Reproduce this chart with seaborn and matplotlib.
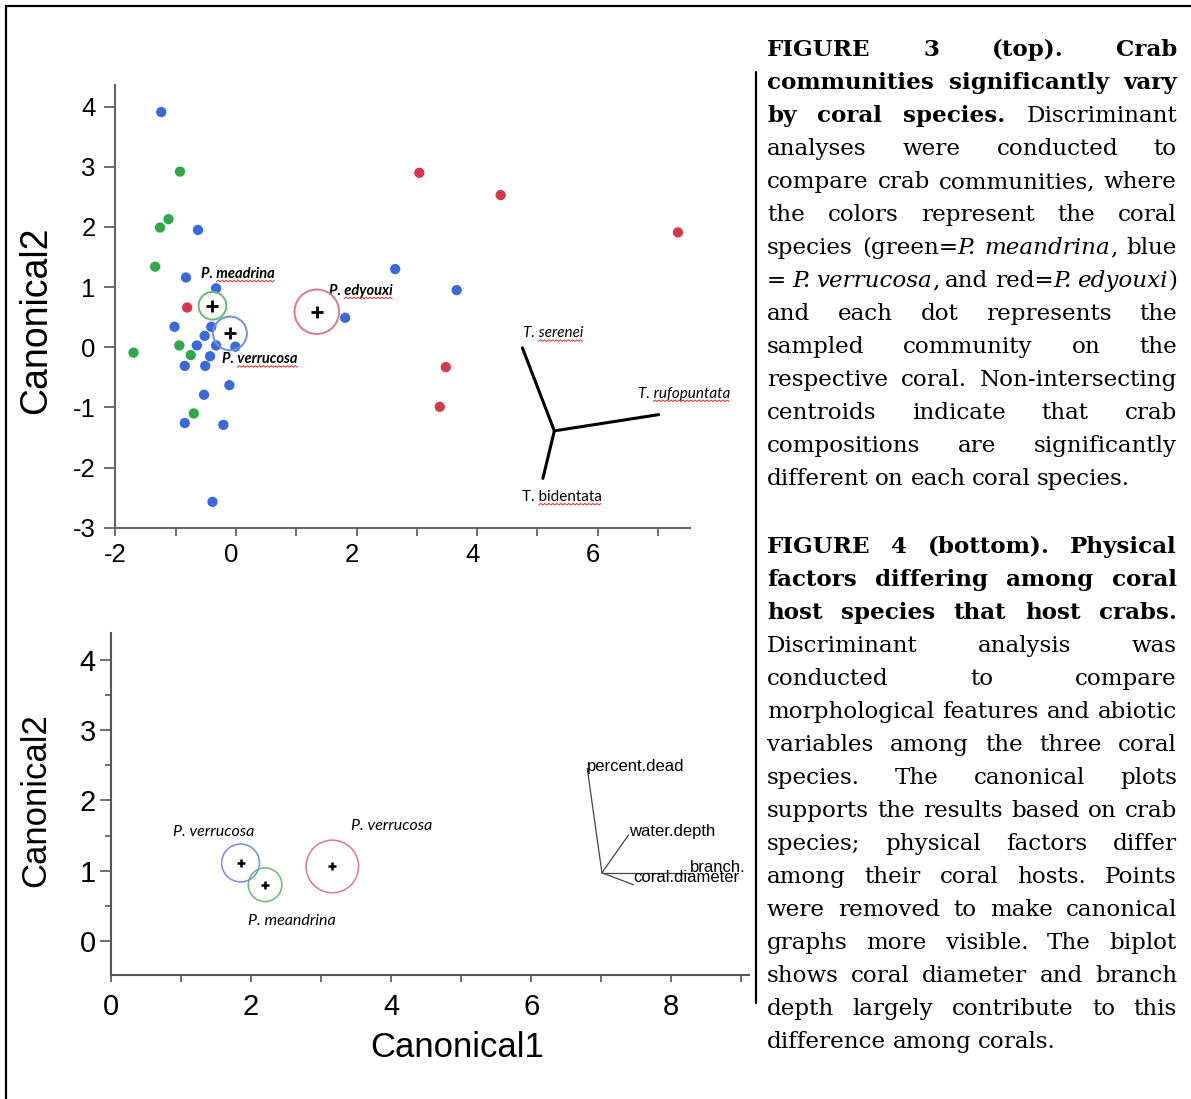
import matplotlib
matplotlib.use("Agg")
import matplotlib.pyplot as plt
from matplotlib.patches import Circle
from matplotlib.lines import Line2D
from matplotlib.ticker import MultipleLocator
from matplotlib.transforms import ScaledTranslation
import numpy as np
import pandas as pd
import seaborn as sns

# ---- Figure 3 (top): crab communities, canonical scores ----
green_x = [-0.93, -1.12, -1.26, -1.34, -0.94, -1.70, -0.75, -0.70]
green_y = [2.92, 2.13, 1.99, 1.34, 0.03, -0.09, -0.13, -1.10]
blue_x = [-1.24, -0.63, -0.83, -0.33, -1.02, -0.41, -0.52, -0.65, -0.33, -0.01, -0.43,
          -0.85, -0.51, -0.11, -0.53, -0.85, -0.21, -0.39, 2.64, 1.81, 3.66]
blue_y = [3.91, 1.95, 1.16, 0.98, 0.34, 0.34, 0.19, 0.03, 0.03, 0.01, -0.15,
          -0.31, -0.31, -0.63, -0.79, -1.26, -1.29, -2.57, 1.30, 0.49, 0.95]
red_x = [3.04, 4.39, 7.33, 3.48, 3.38, -0.81]
red_y = [2.90, 2.53, 1.91, -0.33, -0.99, 0.66]

coral_species = ["P. meandrina", "P. verrucosa", "P. edyouxi"]
crab_cent_x = [-0.39, -0.10, 1.34]
crab_cent_y = [0.69, 0.23, 0.59]
crab_cent_r = [0.23, 0.28, 0.37]
crab_cent_labels = ["P. meadrina", "P. verrucosa", "P. edyouxi"]
crab_label_x = [-0.58, -0.23, 1.54]
crab_label_y = [1.22, -0.20, 0.94]

crab_names = ["T. serenei", "T. rufopuntata", "T. bidentata"]
crab_origin = (5.28, -1.39)
crab_vec_x = [4.75, 7.01, 5.09]
crab_vec_y = [-0.01, -1.12, -2.18]
crab_name_x = [4.76, 6.66, 4.75]
crab_name_y = [0.23, -0.77, -2.49]

# ---- Figure 4 (bottom): physical factors ----
phys_cent_x = [2.20, 1.85, 3.16]
phys_cent_y = [0.80, 1.11, 1.06]
phys_cent_r = [0.24, 0.27, 0.375]
phys_labels = ["P. meandrina", "P. verrucosa", "P. verrucosa"]
phys_label_x = [1.96, 0.88, 3.42]
phys_label_y = [0.29, 1.55, 1.64]

phys_names = ["percent.dead", "water.depth", "branch.", "coral.diameter"]
phys_origin = (7.01, 0.97)
phys_vec_x = [6.80, 7.39, 8.27, 7.46]
phys_vec_y = [2.46, 1.51, 0.97, 0.80]
phys_name_x = [6.80, 7.39, 8.27, 7.46]
phys_name_y = [2.49, 1.56, 1.05, 0.90]

cap3 = [
    "*FIGURE 3 (top). Crab*",
    "*communities significantly vary*",
    "*by coral species.* Discriminant",
    "analyses were conducted to",
    "compare crab communities, where",
    "the colors represent the coral",
    "species (green=_P. meandrina_, blue",
    "= _P. verrucosa_, and red=_P. edyouxi_)",
    "and each dot represents the",
    "sampled community on the",
    "respective coral. Non-intersecting",
    "centroids indicate that crab",
    "compositions are significantly",
    "different on each coral species.",
]
cap4 = [
    "*FIGURE 4 (bottom). Physical*",
    "*factors differing among coral*",
    "*host species that host crabs.*",
    "Discriminant analysis was",
    "conducted to compare",
    "morphological features and abiotic",
    "variables among the three coral",
    "species. The canonical plots",
    "supports the results based on crab",
    "species; physical factors differ",
    "among their coral hosts. Points",
    "were removed to make canonical",
    "graphs more visible. The biplot",
    "shows coral diameter and branch",
    "depth largely contribute to this",
    "difference among corals.",
]

dot_colors = {"P. meandrina": "#2fa948", "P. verrucosa": "#3a69d9", "P. edyouxi": "#d4394b"}
ring_colors = {"P. meandrina": "#62bf6c", "P. verrucosa": "#6d8fe4", "P. edyouxi": "#e07a82"}

sns.set_style("ticks")
plt.rcParams["font.family"] = ["Liberation Sans", "DejaVu Sans"]
plt.rcParams["axes.unicode_minus"] = False
plt.rcParams["text.color"] = "black"
plt.rcParams["axes.labelcolor"] = "black"

small_font = ["Lato", "Open Sans", "DejaVu Sans"]
serif = ["DejaVu Serif", "Liberation Serif"]

W, H = 1191, 1099
fig = plt.figure(figsize=(W / 100, H / 100), dpi=100)
renderer = fig.canvas.get_renderer()
squiggles = []

# ---------- top plot ----------
ax1 = fig.add_axes([115 / W, 1 - 527.7 / H, 575 / W, 442.7 / H])
df = pd.DataFrame({
    "c1": green_x + blue_x + red_x,
    "c2": green_y + blue_y + red_y,
    "coral": ["P. meandrina"] * len(green_x) + ["P. verrucosa"] * len(blue_x)
             + ["P. edyouxi"] * len(red_x),
})
sns.scatterplot(data=df, x="c1", y="c2", hue="coral", palette=dot_colors,
                s=55, edgecolor="none", legend=False, ax=ax1, zorder=3)

for sp, cx, cy, r in zip(coral_species, crab_cent_x, crab_cent_y, crab_cent_r):
    ax1.add_patch(Circle((cx, cy), r, fill=False, ec=ring_colors[sp], lw=1.4, zorder=4))
ax1.scatter(crab_cent_x, crab_cent_y, marker="+", s=80, c="black", linewidths=2, zorder=5)
for lab, lx, ly in zip(crab_cent_labels, crab_label_x, crab_label_y):
    t = ax1.text(lx, ly, lab, fontsize=10.5, family=small_font, weight="bold",
                 style="italic", va="center", ha="left")
    squiggles.append(t)

for nx, ny in zip(crab_vec_x, crab_vec_y):
    ax1.plot([crab_origin[0], nx], [crab_origin[1], ny], color="black", lw=2.2)
for name, lx, ly in zip(crab_names, crab_name_x, crab_name_y):
    st = "normal" if name == "T. bidentata" else "italic"
    t = ax1.text(lx, ly, name, fontsize=11, family=small_font, style=st,
                 va="center", ha="left")
    squiggles.append(t)

ax1.set_xlim(-2.007, 7.53)
ax1.set_ylim(-3.0, 4.36)
ax1.set_xticks([-2, 0, 2, 4, 6])
ax1.xaxis.set_minor_locator(MultipleLocator(1))
ax1.set_yticks([-3, -2, -1, 0, 1, 2, 3, 4])
ax1.set_xlabel("")
ax1.set_ylabel("Canonical2", fontsize=27)
ax1.yaxis.label.set_va("center")
ax1.yaxis.set_label_coords(-0.137, 0.469)
ax1.tick_params(axis="both", which="both", direction="out", colors="#555555",
                labelcolor="black", width=1.2, labelsize=18.5)
ax1.tick_params(axis="y", length=8, pad=6)
ax1.tick_params(axis="x", which="both", length=6, pad=5)
shift = ScaledTranslation(-0.05, 0, fig.dpi_scale_trans)
for lab in ax1.get_xticklabels()[1:]:
    lab.set_transform(lab.get_transform() + shift)
sns.despine(ax=ax1)
for s in ["left", "bottom"]:
    ax1.spines[s].set_color("#666666")
    ax1.spines[s].set_linewidth(1.5)

# ---------- bottom plot ----------
ax2 = fig.add_axes([111 / W, 1 - 975.3 / H, 638 / W, 342.6 / H])
cent = pd.DataFrame({"c1": phys_cent_x, "c2": phys_cent_y, "coral": coral_species})
sns.scatterplot(data=cent, x="c1", y="c2", marker="+", s=30, color="black",
                linewidth=1.8, legend=False, ax=ax2, zorder=5)
for sp, cx, cy, r in zip(coral_species, phys_cent_x, phys_cent_y, phys_cent_r):
    ax2.add_patch(Circle((cx, cy), r, fill=False, ec=ring_colors[sp], lw=1.1, zorder=4))
for lab, lx, ly in zip(phys_labels, phys_label_x, phys_label_y):
    ax2.text(lx, ly, lab, fontsize=11.5, family=small_font, style="italic",
             va="center", ha="left")

for nx, ny in zip(phys_vec_x, phys_vec_y):
    ax2.plot([phys_origin[0], nx], [phys_origin[1], ny], color="#444444", lw=0.9)
for name, lx, ly in zip(phys_names, phys_name_x, phys_name_y):
    ax2.text(lx, ly, name, fontsize=12, va="center", ha="left")

ax2.set_xlim(0, 9.11)
ax2.set_ylim(-0.49, 4.39)
ax2.set_xticks([0, 2, 4, 6, 8])
ax2.xaxis.set_minor_locator(MultipleLocator(1))
ax2.set_yticks([0, 1, 2, 3, 4])
ax2.yaxis.set_minor_locator(MultipleLocator(0.5))
ax2.set_xlabel("Canonical1", fontsize=25)
ax2.set_ylabel("Canonical2", fontsize=25)
ax2.xaxis.label.set_va("center")
ax2.yaxis.label.set_va("center")
ax2.xaxis.set_label_coords(0.542, -0.212)
ax2.yaxis.set_label_coords(-0.1176, 0.512)
ax2.tick_params(axis="both", which="both", direction="out", colors="#555555",
                labelcolor="black", width=1.2, labelsize=21)
ax2.tick_params(axis="y", which="major", length=8, pad=3)
ax2.tick_params(axis="y", which="minor", length=4)
ax2.tick_params(axis="x", which="both", length=5, pad=8)
sns.despine(ax=ax2)
for s in ["left", "bottom"]:
    ax2.spines[s].set_color("#555555")
    ax2.spines[s].set_linewidth(1.5)

# ---------- frame and separator ----------
fig.add_artist(Line2D([6 / W, 1], [1 - 6 / H, 1 - 6 / H], transform=fig.transFigure,
                      color="black", lw=1.6))
fig.add_artist(Line2D([6 / W, 6 / W], [0, 1 - 6 / H], transform=fig.transFigure,
                      color="black", lw=1.6))
fig.add_artist(Line2D([756 / W, 756 / W], [1 - 72 / H, 1 - 1003 / H],
                      transform=fig.transFigure, color="black", lw=1.6))

# red spell-check squiggles under the species names (as in the source document)
for t in squiggles:
    bb = t.get_window_extent(renderer)
    head = t.get_text().split(" ")[0] + " "
    tmp = fig.text(0, 0, head, fontsize=t.get_fontsize(), family=small_font,
                   weight=t.get_weight(), style=t.get_style())
    hw = tmp.get_window_extent(renderer).width
    tmp.remove()
    xs = np.arange(bb.x0 + hw, bb.x1, 2.0)
    ys = bb.y0 - 1 + np.where(np.arange(len(xs)) % 2 == 0, 0, 1.6)
    fig.add_artist(Line2D(xs / W, ys / H, transform=fig.transFigure,
                          color="#e0302a", lw=0.7))


# ---------- justified captions ----------
def parse(line):
    words, cur = [], []
    bold = ital = False
    for ch in line:
        if ch == "*":
            bold = not bold
            continue
        if ch == "_":
            ital = not ital
            continue
        if ch == " ":
            if cur:
                words.append(cur)
                cur = []
            continue
        if cur and cur[-1][1] == bold and cur[-1][2] == ital:
            cur[-1][0] += ch
        else:
            cur.append([ch, bold, ital])
    if cur:
        words.append(cur)
    return words


def seg_width(txt, bold, ital, size):
    t = fig.text(0, 0, txt, fontsize=size, family=serif,
                 weight="bold" if bold else "normal",
                 style="italic" if ital else "normal")
    w = t.get_window_extent(renderer).width
    t.remove()
    return w


x0, x1 = 767, 1177
size = 18
space = seg_width("a a", False, False, size) - seg_width("aa", False, False, size)
widest = 0
for line in cap3[:-1] + cap4[:-1]:
    words = parse(line)
    tot = sum(seg_width(s[0], s[1], s[2], size) for w in words for s in w)
    widest = max(widest, tot + 0.8 * space * (len(words) - 1))
if widest > (x1 - x0):
    size *= (x1 - x0) / widest


def draw_caption(lines, base0):
    for i, line in enumerate(lines):
        words = parse(line)
        widths = [[seg_width(s[0], s[1], s[2], size) for s in w] for w in words]
        tot = sum(sum(w) for w in widths)
        last = i == len(lines) - 1
        if last or len(words) == 1:
            gap = size * 0.28 * 100 / 72
        else:
            gap = (x1 - x0 - tot) / (len(words) - 1)
        x = x0
        yb = 1 - (base0 + 33 * i) / H
        for w, ws in zip(words, widths):
            for s, sw in zip(w, ws):
                fig.text(x / W, yb, s[0], fontsize=size, family=serif, va="baseline",
                         ha="left", color="black",
                         weight="bold" if s[1] else "normal",
                         style="italic" if s[2] else "normal")
                x += sw
            x += gap


draw_caption(cap3, 56)
draw_caption(cap4, 553)

fig.savefig("out.png", dpi=100)
